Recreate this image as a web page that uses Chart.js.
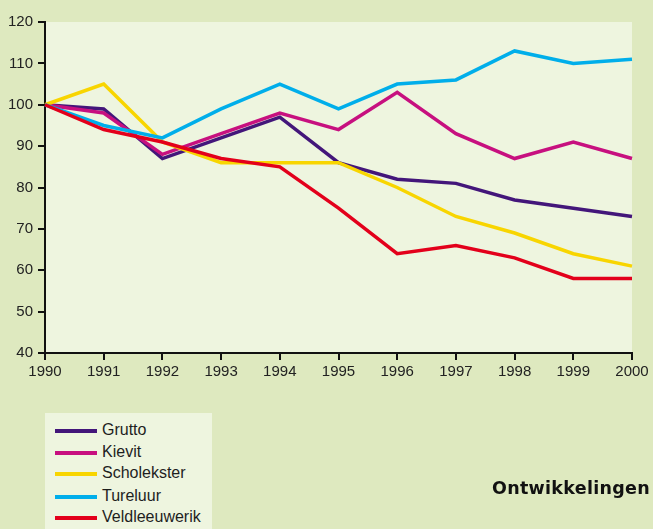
<!DOCTYPE html>
<html>
<head>
<meta charset="utf-8">
<script src="https://cdn.jsdelivr.net/npm/chart.js@4/dist/chart.umd.min.js"></script>
<style>
    body { margin: 0; background: #dee9bf; }
    #wrap { position: relative; width: 653px; height: 529px; overflow: hidden; }
    #legend {
        position: absolute; left: 45px; top: 413px; width: 167px; height: 116px;
        background: #eef5df; font-family: "Liberation Sans", Arial, sans-serif;
        font-size: 16px; color: #1e1e1e;
    }
    .row { position: absolute; left: 10px; height: 20px; line-height: 20px; white-space: nowrap; }
    .row span.swatch { display: inline-block; width: 42px; height: 4px; vertical-align: middle; margin-right: 5px; }
    #title {
        position: absolute; left: 492px; top: 478px; white-space: nowrap;
        font-family: "DejaVu Sans", sans-serif; font-weight: bold; font-size: 17.5px;
        letter-spacing: 0.3px; color: #111;
    }
</style>
</head>
<body>
<div id="wrap">
    <canvas id="birds" width="653" height="529"></canvas>
    <div id="legend"></div>
    <div id="title">Ontwikkelingen</div>
</div>
<script>
const years = ["1990", "1991", "1992", "1993", "1994", "1995", "1996", "1997", "1998", "1999", "2000"];

const grutto = [100, 99, 87, 92, 97, 86, 82, 81, 77, 75, 73];
const kievit = [100, 98, 88, 93, 98, 94, 103, 93, 87, 91, 87];
const scholekster = [100, 105, 91, 86, 86, 86, 80, 73, 69, 64, 61];
const tureluur = [100, 95, 92, 99, 105, 99, 105, 106, 113, 110, 111];
const veldleeuwerik = [100, 94, 91, 87, 85, 75, 64, 66, 63, 58, 58];

const seriesNames = ["Grutto", "Kievit", "Scholekster", "Tureluur", "Veldleeuwerik"];
const seriesColors = ["#43167a", "#c7107f", "#f8d500", "#00aeea", "#e3001b"];
const seriesData = [grutto, kievit, scholekster, tureluur, veldleeuwerik];

var datasets = new Array();
seriesNames.forEach(function(name, i) {
    datasets.push({
        label: name,
        data: seriesData[i],
        borderColor: seriesColors[i],
        backgroundColor: seriesColors[i],
        borderWidth: 3.5,
        pointRadius: 0,
        tension: 0,
        clip: false,
        order: seriesNames.length - 1 - i
    });
});

// plot area background
const plotBg = {
    id: 'plotBg',
    beforeDraw(chart) {
        const a = chart.chartArea;
        const ctx = chart.ctx;
        ctx.save();
        ctx.fillStyle = '#eef5df';
        ctx.fillRect(a.left, a.top, a.right - a.left, a.bottom - a.top);
        ctx.restore();
    }
};

const tickFont = { family: '"Liberation Sans", Arial, sans-serif', size: 15 };

new Chart(document.getElementById('birds').getContext('2d'), {
    type: 'line',
    data: {
        labels: years,
        datasets: datasets
    },
    options: {
        responsive: false,
        animation: false,
        layout: { padding: { top: 22, right: 21, left: 0, bottom: 0 } },
        plugins: {
            legend: { display: false },
            tooltip: { enabled: false }
        },
        scales: {
            x: {
                afterFit: function(scale) { scale.height = 176; },
                grid: { drawOnChartArea: false, drawTicks: true, tickLength: 7, color: '#111', lineWidth: 2 },
                border: { color: '#111', width: 2 },
                ticks: { color: '#222', font: tickFont, padding: 3, maxRotation: 0, autoSkip: false }
            },
            y: {
                min: 40,
                max: 120,
                afterFit: function(scale) { scale.width = 45; },
                grid: { drawOnChartArea: false, drawTicks: true, tickLength: 7, color: '#111', lineWidth: 2 },
                border: { color: '#111', width: 2 },
                ticks: { stepSize: 10, color: '#222', font: tickFont, padding: 5 }
            }
        }
    },
    plugins: [plotBg]
});

// legend box
var legend = document.getElementById('legend');
var rowTops = [7, 29, 50, 73, 94];
seriesNames.forEach(function(name, i) {
    var row = document.createElement('div');
    row.className = 'row';
    row.style.top = rowTops[i] + 'px';
    row.innerHTML = '<span class="swatch" style="background:' + seriesColors[i] + '"></span>' + name;
    legend.appendChild(row);
});
</script>
</body>
</html>
